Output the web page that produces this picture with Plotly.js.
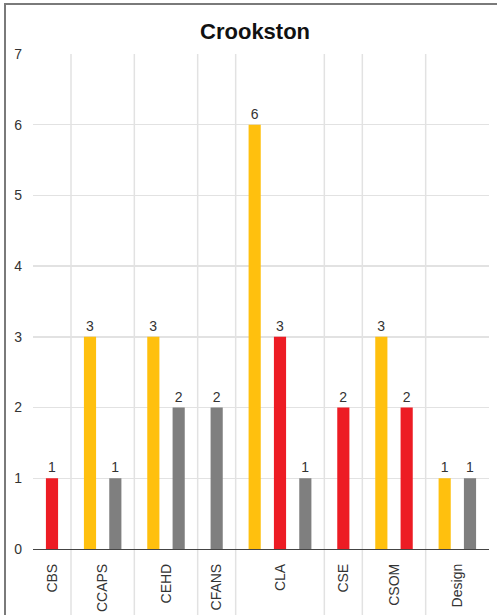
<!DOCTYPE html>
<html>
<head>
<meta charset="utf-8">
<script src="https://cdn.plot.ly/plotly-3.0.1.min.js"></script>
<style>
  html, body { margin: 0; padding: 0; background: #fff; }
  #wrap { position: relative; width: 497px; height: 615px; overflow: hidden; }
  #chart { width: 497px; height: 615px; }
  #frame {
    position: absolute; top: 3px; left: 4px; right: -10px; bottom: -10px;
    border-top: 2px solid #7a7a7a; border-left: 2px solid #7a7a7a;
    pointer-events: none;
  }
</style>
</head>
<body>
<div id="wrap">
  <div id="chart"></div>
  <div id="frame"></div>
</div>
<script>
// Colleges and the counts for each of the three series
const categories = ['CBS', 'CCAPS', 'CEHD', 'CFANS', 'CLA', 'CSE', 'CSOM', 'Design'];
const goldCounts = [0, 3, 3, 0, 6, 0, 3, 1];
const redCounts  = [1, 0, 0, 0, 3, 2, 2, 0];
const grayCounts = [0, 1, 2, 2, 1, 0, 0, 1];

const seriesList = [
  { name: 'Gold', values: goldCounts, color: '#FFC00E' },
  { name: 'Red',  values: redCounts,  color: '#ED1C24' },
  { name: 'Gray', values: grayCounts, color: '#7F7F7F' }
];

// Each college only gets a slot for the series it actually has,
// with a small pad on both sides of the group.
const PAD = 0.25;
const xs = seriesList.map(() => []);
const ys = seriesList.map(() => []);
const groupCenters = [];
const dividers = [];
let cursor = 0;
categories.forEach((cat, i) => {
  const start = cursor;
  cursor += PAD;
  seriesList.forEach((s, k) => {
    if (s.values[i] > 0) {
      xs[k].push(cursor + 0.5);
      ys[k].push(s.values[i]);
      cursor += 1;
    }
  });
  cursor += PAD;
  groupCenters.push((start + cursor) / 2);
  if (i < categories.length - 1) dividers.push(cursor);
});

const FONT = '"Liberation Sans", Arial, sans-serif';

const traces = seriesList.map((s, k) => ({
  type: 'bar',
  name: s.name,
  x: xs[k],
  y: ys[k],
  width: 0.48,
  marker: { color: s.color },
  text: ys[k].map(String),
  textposition: 'outside',
  textfont: { family: FONT, size: 14, color: '#333' },
  cliponaxis: false,
  hoverinfo: 'x+y'
}));

const plotH = 615 - 54 - 66;
const shapes = dividers.map(d => ({
  type: 'line', xref: 'x', yref: 'paper',
  x0: d, x1: d, y0: -66 / plotH, y1: 1,
  line: { color: '#e2e2e2', width: 1.5 },
  layer: 'below'
}));

const layout = {
  width: 497, height: 615,
  margin: { l: 33, r: 8, t: 54, b: 66 },
  paper_bgcolor: '#fff', plot_bgcolor: '#fff',
  showlegend: false,
  font: { family: FONT, color: '#333' },
  title: {
    text: '<b>Crookston</b>',
    font: { family: FONT, size: 22, color: '#111' },
    xref: 'paper', x: 0.487, xanchor: 'center',
    yref: 'container', y: 1 - 31 / 615, yanchor: 'middle'
  },
  xaxis: {
    range: [0, cursor],
    tickmode: 'array',
    tickvals: groupCenters,
    ticktext: categories,
    tickangle: -90,
    tickfont: { family: FONT, size: 14, color: '#333' },
    showgrid: false,
    zeroline: false,
    showline: true, linecolor: '#444', linewidth: 1.2,
    ticks: '',
    ticklabelstandoff: 8,
    fixedrange: true
  },
  yaxis: {
    range: [0, 7],
    tickmode: 'linear', tick0: 0, dtick: 1,
    tickfont: { family: FONT, size: 14, color: '#333' },
    showgrid: true, gridcolor: '#e2e2e2', gridwidth: 1.5,
    zeroline: false,
    ticks: '',
    ticklabelstandoff: 10,
    fixedrange: true
  },
  shapes: shapes
};

Plotly.newPlot('chart', traces, layout, { displayModeBar: false, staticPlot: true });
</script>
</body>
</html>
